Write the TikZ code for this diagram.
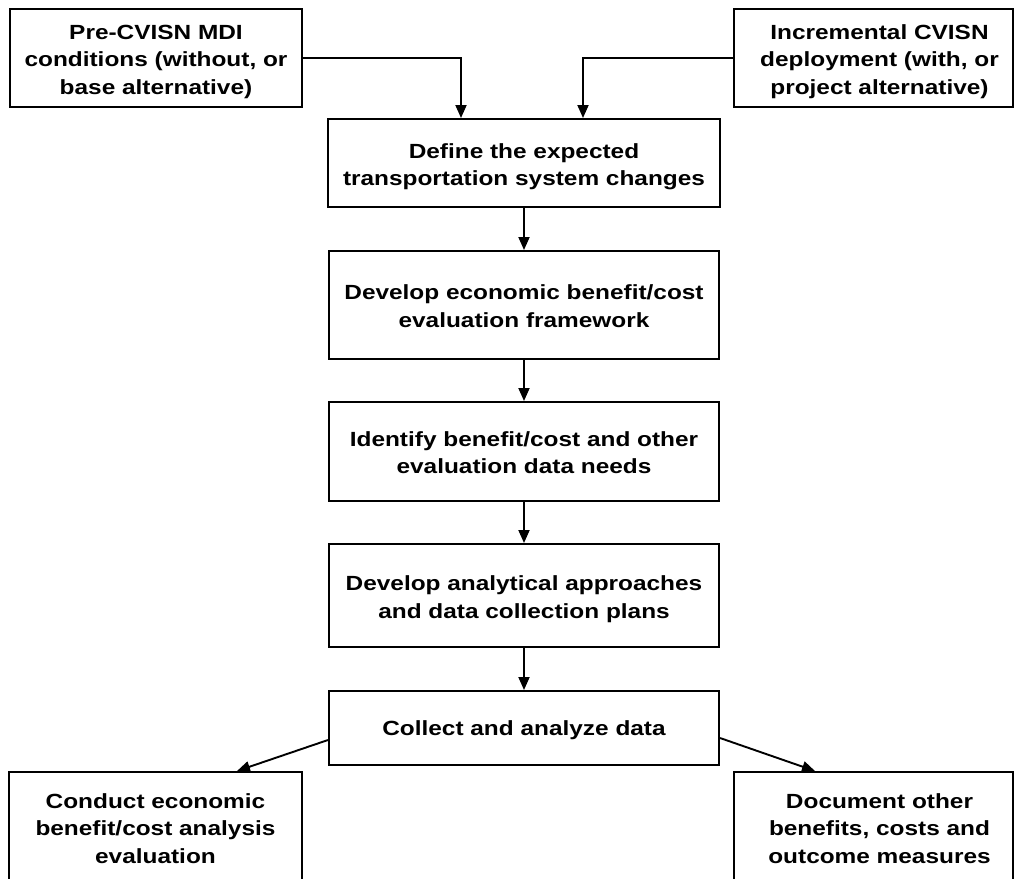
\documentclass[tikz,border=0pt]{standalone}
\usepackage{fontspec}
\newfontfamily\boxfont{Liberation Sans}[FakeStretch=1.19]
\usetikzlibrary{arrows.meta,calc}

\tikzset{
  stepbox/.style={draw=black, line width=2pt, fill=white, inner sep=0pt},
  boxtext/.style={align=center, inner sep=0pt,
    font=\boxfont\bfseries\fontsize{20.5}{27.5}\selectfont},
  arr/.style={draw=black, line width=1.9pt,
    -{Triangle[length=13pt,width=11pt]}},
}

\begin{document}
\begin{tikzpicture}[x=1pt, y=-1pt]
  \useasboundingbox (0,0) rectangle (1014,878);
  \clip (0,0) rectangle (1014,878);

  % inputs
  \node[stepbox, minimum width=292pt, minimum height=98pt] (tl) at (156,58) {};
  \node[boxtext] (tltext) at ($(tl.center)+(0,3.5)$) {Pre-CVISN MDI\\conditions (without, or\\base alternative)};
  \node[stepbox, minimum width=279pt, minimum height=98pt] (tr) at (873.5,58) {};
  \node[boxtext] (trtext) at ($(tr.center)+(6,3.5)$) {Incremental CVISN\\deployment (with, or\\project alternative)};

  % main sequence
  \node[stepbox, minimum width=392pt, minimum height=88pt] (def) at (524,163) {};
  \node[boxtext] (deftext) at ($(def.center)+(0,3.5)$) {Define the expected\\transportation system changes};
  \node[stepbox, minimum width=390pt, minimum height=108pt] (dev) at (524,305) {};
  \node[boxtext] (devtext) at ($(dev.center)+(0,1)$) {Develop economic benefit/cost\\evaluation framework};
  \node[stepbox, minimum width=390pt, minimum height=99pt] (idn) at (524,451.5) {};
  \node[boxtext] (idntext) at ($(idn.center)+(0,1)$) {Identify benefit/cost and other\\evaluation data needs};
  \node[stepbox, minimum width=390pt, minimum height=103pt] (ana) at (524,595.5) {};
  \node[boxtext] (anatext) at ($(ana.center)+(0,3.5)$) {Develop analytical approaches\\and data collection plans};
  \node[stepbox, minimum width=390pt, minimum height=74pt] (col) at (524,728) {};
  \node[boxtext] (coltext) at ($(col.center)+(0,2.5)$) {Collect and analyze data};

  % outputs
  \node[stepbox, minimum width=293pt, minimum height=111pt] (bl) at (155.5,827.5) {};
  \node[boxtext] (bltext) at ($(bl.center)+(0,1)$) {Conduct economic\\benefit/cost analysis\\evaluation};
  \node[stepbox, minimum width=279pt, minimum height=111pt] (br) at (873.5,827.5) {};
  \node[boxtext] (brtext) at ($(br.center)+(6,1)$) {Document other\\benefits, costs and\\outcome measures};

  % connectors
  \draw[arr] (tl.east) -| ($(def.north)+(-63,0)$);
  \draw[arr] (tr.west) -| ($(def.north)+(59,0)$);
  \draw[arr] (def.south) -- (dev.north);
  \draw[arr] (dev.south) -- (idn.north);
  \draw[arr] (idn.south) -- (ana.north);
  \draw[arr] (ana.south) -- (col.north);
  \draw[arr] ($(col.west)+(0,12)$) -- ($(bl.north)+(81.5,0)$);
  \draw[arr] ($(col.east)+(0,10)$) -- ($(br.north)+(-58.5,0)$);
\end{tikzpicture}
\end{document}
